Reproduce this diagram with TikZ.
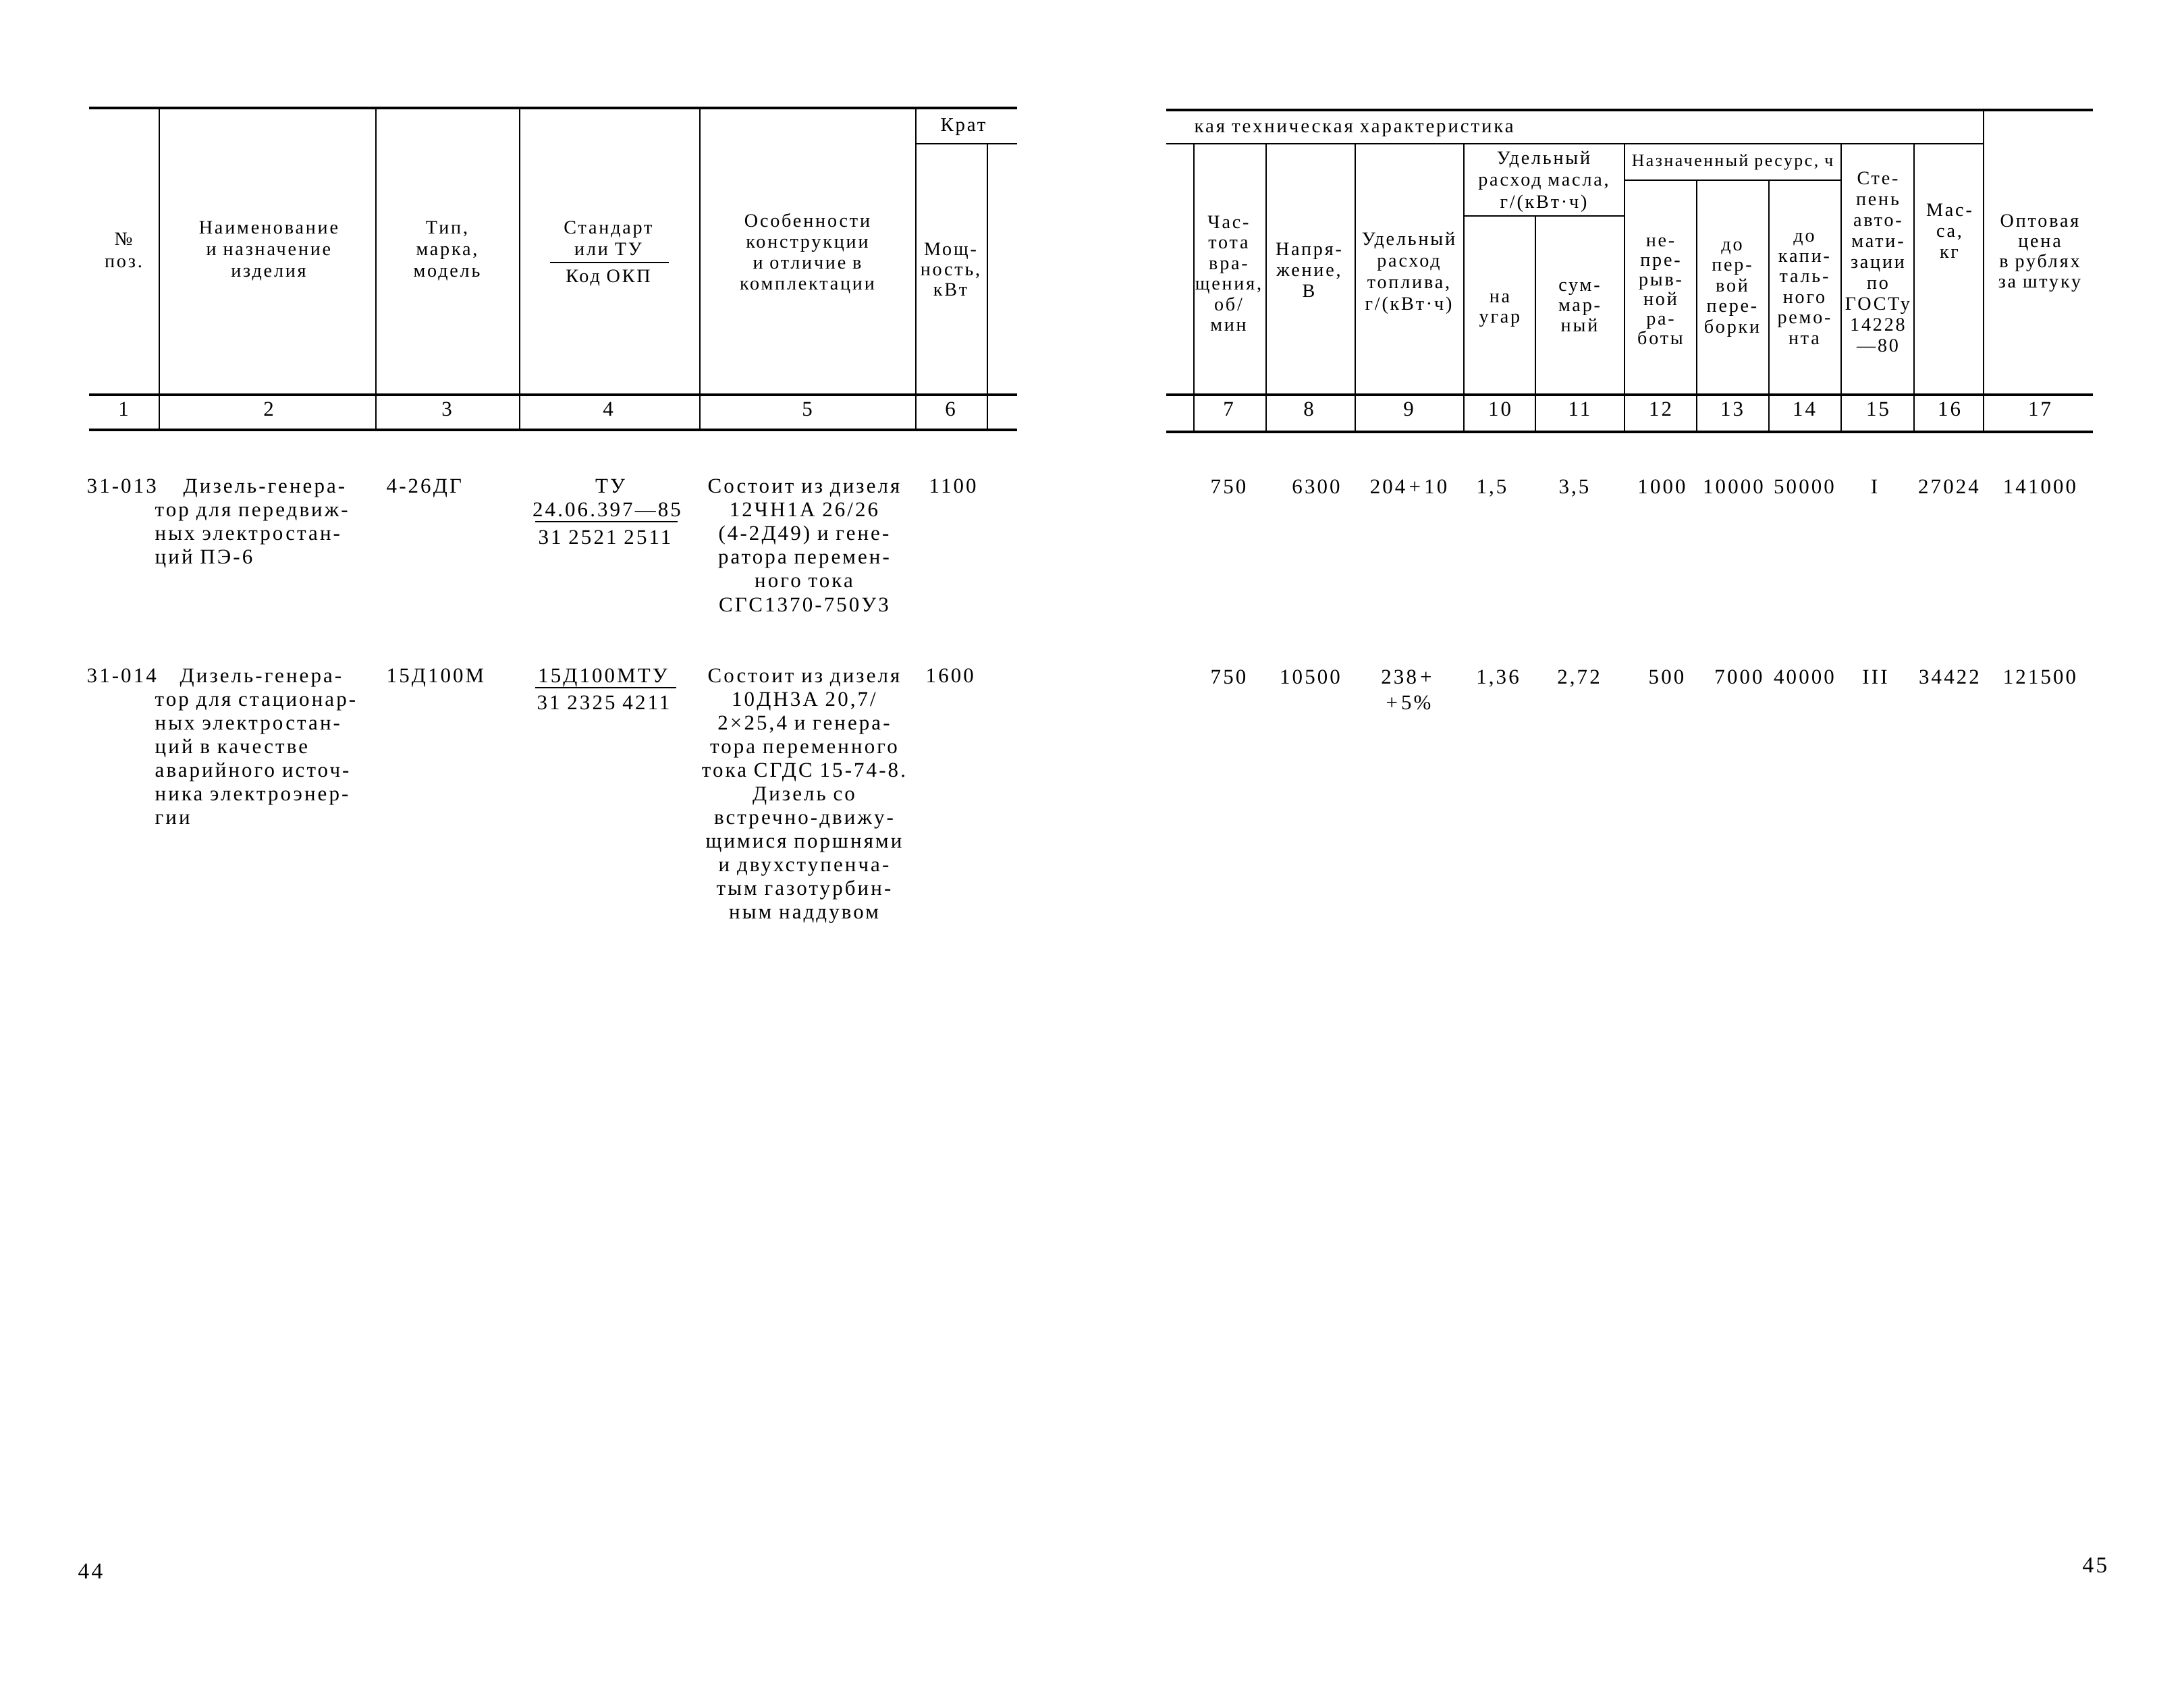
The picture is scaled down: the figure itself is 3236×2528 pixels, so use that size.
\documentclass[tikz,border=0pt]{standalone}
\usepackage{fontspec}
\setmainfont[LetterSpace=10]{Liberation Serif}
\begin{document}
\begin{tikzpicture}[x=0.01cm,y=-0.01cm,
    hd/.style={font=\fontsize{8}{8.8}\selectfont,inner sep=0pt,anchor=mid},
    cell/.style={font=\fontsize{8.8}{10}\selectfont,inner sep=0pt,anchor=mid},
    wl/.style={cell,anchor=mid west},
    thickrule/.style={line width=1.1pt},
    thinrule/.style={line width=0.55pt}]
\useasboundingbox (0,0) rectangle (3236,2528);
% page 44: rules
    \draw[thickrule] (132,160) -- (1507,160);
    \draw[thinrule] (1357,213) -- (1507,213);
    \draw[thickrule] (132,585) -- (1507,585);
    \draw[thickrule] (132,637) -- (1507,637);
    \foreach \xv in {236,557,770,1037,1357}{\draw[thinrule] (\xv,160) -- (\xv,637);}
    \draw[thinrule] (1463,213) -- (1463,637);
% page 45: rules
    \draw[thickrule] (1728,163) -- (3101,163);
    \draw[thinrule] (1728,213) -- (2939,213);
    \draw[thickrule] (1728,585) -- (3101,585);
    \draw[thickrule] (1728,640) -- (3101,640);
    \draw[thinrule] (2169,320) -- (2407,320);
    \draw[thinrule] (2407,267) -- (2728,267);
    \foreach \xv in {1769,1876,2008,2169,2407,2728,2836}{\draw[thinrule] (\xv,213) -- (\xv,640);}
    \foreach \xv in {2514,2621}{\draw[thinrule] (\xv,267) -- (\xv,640);}
    \draw[thinrule] (2275,320) -- (2275,640);
    \draw[thinrule] (2939,163) -- (2939,640);
% header, page 44
    \node[hd] (no) at (183,355) {№};
    \node[hd] (poz) at (183,388) {поз.};
    \foreach \t [count=\k from 0] in {Наименование,и назначение,изделия}{\node[hd] (naim\k) at (398,{338+32*\k}) {\t};}
    \foreach \t [count=\k from 0] in {{Тип,},{марка,},модель}{\node[hd] (tip\k) at (662,{338+32*\k}) {\t};}
    \node[hd] (std) at (901,338) {Стандарт};
    \node[hd] (ilitu) at (901,370) {или ТУ};
    \draw[thinrule] (815,389) -- (991,389);
    \node[hd] (okp) at (901,410) {Код ОКП};
    \foreach \t [count=\k from 0] in {Особенности,конструкции,и отличие в,комплектации}{\node[hd] (osob\k) at (1196,{328+31*\k}) {\t};}
    \node[cell,font=\fontsize{8.2}{10}\selectfont] (krat) at (1427,186) {Крат};
    \foreach \t [count=\k from 0] in {Мощ-,{ность,},кВт}{\node[hd] (moshch\k) at (1408,{370+30*\k}) {\t};}
    \foreach \xv/\t in {183/1,398/2,662/3,901/4,1196/5,1408/6}{\node[cell] (nl\t) at (\xv,608) {\t};}
% header, page 45
    \node[wl,font=\fontsize{8.2}{10}\selectfont] (kaya) at (1769,188) {кая техническая характеристика};
    \foreach \t [count=\k from 0] in {Час-,тота,вра-,{щения,},об/,мин}{\node[hd] (chast\k) at (1820,{330+30.5*\k}) {\t};}
    \foreach \t [count=\k from 0] in {Напря-,{жение,},В}{\node[hd] (napr\k) at (1939,{370+31*\k}) {\t};}
    \foreach \t [count=\k from 0] in {Удельный,расход,{топлива,},г/(кВт·ч)}{\node[hd] (topl\k) at (2087,{355+32*\k}) {\t};}
    \foreach \t [count=\k from 0] in {Удельный,{расход масла,},г/(кВт·ч)}{\node[hd] (masl\k) at (2287,{235+32.5*\k}) {\t};}
    \foreach \t [count=\k from 0] in {на,угар}{\node[hd] (ugar\k) at (2222,{440+30*\k}) {\t};}
    \foreach \t [count=\k from 0] in {сум-,мар-,ный}{\node[hd] (summ\k) at (2340,{423+30*\k}) {\t};}
    \node[hd,font=\fontsize{7.3}{8.8}\selectfont] (resurs) at (2567,238) {Назначенный ресурс, ч};
    \foreach \t [count=\k from 0] in {не-,пре-,рыв-,ной,ра-,боты}{\node[hd] (nepr\k) at (2460,{357+29*\k}) {\t};}
    \foreach \t [count=\k from 0] in {до,пер-,вой,пере-,борки}{\node[hd] (perv\k) at (2566,{363+30.5*\k}) {\t};}
    \foreach \t [count=\k from 0] in {до,капи-,таль-,ного,ремо-,нта}{\node[hd] (kap\k) at (2673,{350+30.4*\k}) {\t};}
    \foreach \t [count=\k from 0] in {Сте-,пень,авто-,мати-,зации,по,ГОСТу,14228,—80}{\node[hd] (avt\k) at (2782,{265+31*\k}) {\t};}
    \foreach \t [count=\k from 0] in {Мас-,{са,},кг}{\node[hd] (mass\k) at (2888,{312+31*\k}) {\t};}
    \foreach \t [count=\k from 0] in {Оптовая,цена,в рублях,за штуку}{\node[hd] (cena\k) at (3022,{328+30*\k}) {\t};}
    \foreach \xv/\t in {1820/7,1939/8,2087/9,2222/10,2340/11,2460/12,2566/13,2673/14,2782/15,2888/16,3022/17}{\node[cell] (nr\t) at (\xv,608) {\t};}
% 31-013
    \node[wl] (pa) at (128,722) {31-013};
    \node[wl] (naima) at (271,722) {Дизель-генера-};
    \foreach \t [count=\k from 0] in {тор для передвиж-,ных электростан-,ций ПЭ-6}{\node[wl] (naima\k) at (229,{757+35*\k}) {\t};}
    \node[wl] (tipa) at (572,722) {4-26ДГ};
    \node[cell] (tua) at (904,722) {ТУ};
    \node[cell] (stda) at (899,757) {24.06.397—85};
    \draw[thinrule] (793,773) -- (1004,773);
    \node[cell] (okpa) at (896,798) {31 2521 2511};
    \foreach \t [count=\k from 0] in {Состоит из дизеля,12ЧН1А 26/26,(4-2Д49) и гене-,ратора перемен-,ного тока,СГС1370-750У3}{\node[cell] (osoba\k) at (1191,{722+35.2*\k}) {\t};}
    \node[wl] (kwa) at (1376,722) {1100};
    \foreach \xv/\t [count=\k] in {1820/750,1950/6300,2087/{204\,+\,10},2210/{1,5},2332/{3,5},2462/1000,2568/10000,2673/50000,2777/I,2887/27024,3022/141000}{\node[cell] (da\k) at (\xv,723) {\t};}
% 31-014
    \node[wl] (pb) at (128,1003) {31-014};
    \node[wl] (naimb) at (266,1003) {Дизель-генера-};
    \foreach \t [count=\k from 0] in {тор для стационар-,ных электростан-,ций в качестве,аварийного источ-,ника электроэнер-,гии}{\node[wl] (naimb\k) at (229,{1038+35*\k}) {\t};}
    \node[wl] (tipb) at (572,1003) {15Д100М};
    \node[cell] (stdb) at (893,1003) {15Д100МТУ};
    \draw[thinrule] (793,1019) -- (1002,1019);
    \node[cell] (okpb) at (894,1043) {31 2325 4211};
    \foreach \t [count=\k from 0] in {Состоит из дизеля,{10ДН3А 20,7/},{2×25,4 и генера-},тора переменного,тока СГДС 15-74-8.,Дизель со,встречно-движу-,щимися поршнями,и двухступенча-,тым газотурбин-,ным наддувом}{\node[cell] (osobb\k) at (1191,{1003+35*\k}) {\t};}
    \node[wl] (kwb) at (1371,1003) {1600};
    \foreach \xv/\t [count=\k] in {1820/750,1941/10500,2084/{238\,+},2219/{1,36},2339/{2,72},2469/500,2576/7000,2673/40000,2778/III,2888/34422,3022/121500}{\node[cell] (db\k) at (\xv,1005) {\t};}
    \node[cell] (dbpct) at (2087,1043) {+\,5\%};
% page numbers
    \node[font=\fontsize{9.5}{11}\selectfont,inner sep=0pt] (pg44) at (134,2328) {44};
    \node[font=\fontsize{9.5}{11}\selectfont,inner sep=0pt] (pg45) at (3104,2320) {45};
\end{tikzpicture}
\end{document}
